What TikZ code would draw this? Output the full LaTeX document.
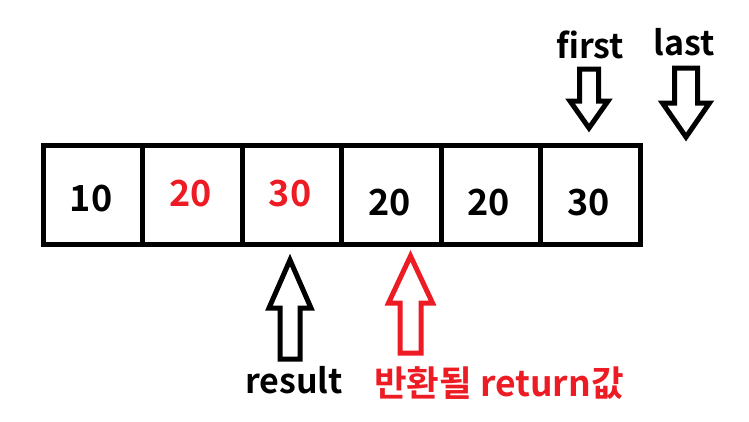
\documentclass[tikz,border=0pt]{standalone}
\usepackage{fontspec}
\setmainfont{Noto Sans CJK KR}[BoldFont={Noto Sans CJK KR Bold}]
\usepackage{tikz}
\usetikzlibrary{positioning}
\definecolor{retred}{RGB}{237,28,36}

\begin{document}
\begin{tikzpicture}[
  x=0.75pt, y=-0.75pt,
  cell/.style={draw, line width=3.75pt, minimum width=74.56pt, minimum height=74.25pt,
               inner sep=0pt, outer sep=0pt},
  val/.style={anchor=base, inner sep=0pt, font=\fontsize{27}{30}\selectfont\bfseries},
  lbl/.style={anchor=base, inner sep=0pt, font=\fontsize{25.5}{28}\selectfont\bfseries},
  blockarrow/.style={draw, line width=3.75pt, line join=miter},
]
\useasboundingbox (0,0) rectangle (749,421);

% Cells of the array
\foreach \i in {1,...,6} {
  \node[cell] (c\i) at ({43.5+99.42*(\i-0.5)}, 194.5) {};
}

% Values
\foreach \i/\v/\col/\by in {1/10/black/211.5, 2/20/retred/206, 3/30/retred/206,
                            4/20/black/215, 5/20/black/215, 6/30/black/215} {
  \node[val, text=\col] (v\i) at ([xshift=-1.5pt]c\i |- 0,\by) {\v};
}

% Labels
\node[lbl] (first) at (590, 58) {first};
\node[lbl] (last) at (684, 55) {last};
\node[lbl] (result) at (294, 393) {result};
\node[lbl, text=retred, font=\fontsize{26.6}{29}\selectfont\bfseries] (ret) at (499, 396) {반환될 return값};

% Block arrows: centre x / tail / head base / tip / shaft half / head half / colour
\foreach \cx/\tl/\hb/\tp/\sw/\hw/\col in {589/69/101/128/9.5/19/black,
                                          686/68/103/137/11.5/23.5/black,
                                          290/359/308/260/10/21/black,
                                          410.5/353/303/256/10.5/22/retred} {
  \draw[blockarrow, draw=\col] (\cx-\sw, \tl) -- (\cx-\sw, \hb) -- (\cx-\hw, \hb)
    -- (\cx, \tp) -- (\cx+\hw, \hb) -- (\cx+\sw, \hb) -- (\cx+\sw, \tl) -- cycle;
}

\end{tikzpicture}
\end{document}
